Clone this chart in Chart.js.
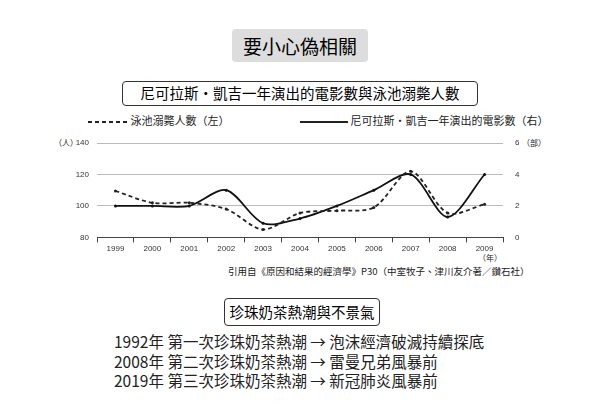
<!DOCTYPE html>
<html><head><meta charset="utf-8">
<script src="https://cdn.jsdelivr.net/npm/chart.js@4"></script>
<style>
body{margin:0;width:600px;height:419px;background:#fff;font-family:"Noto Sans CJK TC",sans-serif;position:relative;overflow:hidden}
.t{position:absolute;white-space:nowrap;color:#222}
.box{position:absolute;border:1.5px solid #333;border-radius:4px;text-align:center;box-sizing:border-box}
canvas{position:absolute;left:0;top:0}
</style></head><body>
<div class="box" style="left:232px;top:29px;width:136px;height:33px;background:#ddd;border:none;font-size:19px;line-height:33px">要小心偽相關</div>
<div class="box" style="left:122px;top:81px;width:356px;height:25px;font-size:14.5px;line-height:22px">尼可拉斯・凱吉一年演出的電影數與泳池溺斃人數</div>
<div class="t" style="left:88px;top:112px;font-size:11px">
<svg width="40" height="8" style="vertical-align:middle"><line x1="0" y1="4" x2="40" y2="4" stroke="#222" stroke-width="2" stroke-dasharray="4,3"/></svg> 泳池溺斃人數（左）</div>
<div class="t" style="left:300px;top:112px;font-size:11px">
<svg width="48" height="8" style="vertical-align:middle"><line x1="0" y1="4" x2="48" y2="4" stroke="#222" stroke-width="2"/></svg> 尼可拉斯・凱吉一年演出的電影數（右）</div>
<div class="t" style="left:54px;top:137px;font-size:8px">（人）</div>
<div class="t" style="left:522px;top:137px;font-size:8px">（部）</div>
<div class="t" style="left:478px;top:252px;font-size:8px">（年）</div>
<div class="t" style="left:228px;top:264px;font-size:9.5px">引用自《原因和結果的經濟學》P30（中室牧子、津川友介著／鑽石社）</div>
<div class="box" style="left:224px;top:298px;width:156px;height:28px;font-size:14.5px;line-height:25px">珍珠奶茶熱潮與不景氣</div>
<div class="t" style="left:114px;top:332px;font-size:15.5px;line-height:19.5px">1992年 第一次珍珠奶茶熱潮 → 泡沫經濟破滅持續探底<br>2008年 第二次珍珠奶茶熱潮 → 雷曼兄弟風暴前<br>2019年 第三次珍珠奶茶熱潮 → 新冠肺炎風暴前</div>
<canvas id="c" width="600" height="419"></canvas>
<script>
const years = ["1999","2000","2001","2002","2003","2004","2005","2006","2007","2008","2009"];
const drownings = [109.5,102,102,98,85,95.5,97,99,122,95.5,101];
const cageFilms = [2,2,2,3,0.9,1.2,2,3,4,1.3,4];
const leftTicks = [80,100,120,140];
const rightTicks = [0,2,4,6];

new Chart(document.getElementById("c"), {
  type: "line",
  data: {
    labels: years,
    datasets: [
      {data: drownings, yAxisID: "yL", borderColor: "#222", borderWidth: 1.8, borderDash: [4,3],
       tension: 0.3, pointRadius: 1.5, pointBackgroundColor: "#222", pointBorderWidth: 0},
      {data: cageFilms, yAxisID: "yR", borderColor: "#111", borderWidth: 1.8,
       tension: 0.3, pointRadius: 1.5, pointBackgroundColor: "#111", pointBorderWidth: 0}
    ]
  },
  options: {
    responsive: false, animation: false,
    layout: {padding: {left: 67, right: 67, top: 143, bottom: 163}},
    plugins: {legend: {display: false}, tooltip: {enabled: false}},
    scales: {
      x: {offset: true,
          grid: {offset: true, drawOnChartArea: false, tickLength: 5, color: "#444"},
          border: {color: "#444"},
          ticks: {color: "#333", font: {size: 8}, padding: 2}},
      yL: {position: "left", min: 80, max: 140,
           afterBuildTicks: a => { a.ticks = leftTicks.map(v => ({value: v})); },
           afterFit: a => { a.width = 30; },
           grid: {color: "#bbb", borderDash: [1,2], drawTicks: false},
           border: {display: false},
           ticks: {color: "#333", font: {size: 8}, padding: 8}},
      yR: {position: "right", min: 0, max: 6,
           afterBuildTicks: a => { a.ticks = rightTicks.map(v => ({value: v})); },
           afterFit: a => { a.width = 30; },
           grid: {drawOnChartArea: false, drawTicks: false},
           border: {display: false},
           ticks: {color: "#333", font: {size: 8}, padding: 12}}
    }
  }
});
</script>
</body></html>
